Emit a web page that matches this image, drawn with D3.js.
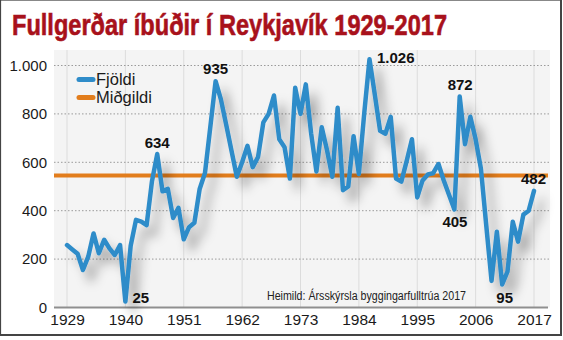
<!DOCTYPE html>
<html>
<head>
<meta charset="utf-8">
<script src="https://cdn.jsdelivr.net/npm/d3@7"></script>
<style>
  html, body { margin: 0; padding: 0; background: #fff; }
  svg { display: block; }
</style>
</head>
<body>
<svg id="chart" width="563" height="340"></svg>
<script>
// Completed dwellings in Reykjavík per year, 1929–2017
const years = d3.range(1929, 2018);
const fjoldi = [
  258, 240, 222, 155, 210, 306, 224, 280, 244, 217,   // 1929-1938
  258, 25, 255, 362, 355, 340, 520, 634, 480, 490,    // 1939-1948
  370, 412, 282, 332, 350, 490, 556, 745, 935, 860,   // 1949-1958
  755, 648, 540, 600, 668, 580, 622, 765, 800, 876,   // 1959-1968
  695, 662, 533, 908, 800, 922, 720, 562, 745, 650,   // 1969-1978
  540, 825, 485, 500, 708, 552, 800, 1026, 880, 730,  // 1979-1988
  718, 788, 533, 520, 605, 695, 455, 525, 550, 555,   // 1989-1998
  593, 525, 465, 405, 872, 675, 788, 695, 574, 340,   // 1999-2008
  110, 313, 95, 148, 354, 272, 384, 400, 482          // 2009-2017
];
const midgildi = 545;
const labelledYears = [1940, 1946, 1957, 1986, 2002, 2003, 2011, 2017];
const xTicks = [1929, 1940, 1951, 1962, 1973, 1984, 1995, 2006, 2017];
const yTicks = [0, 200, 400, 600, 800, 1000];
const seriesNames = ["Fjöldi", "Miðgildi"];
const titleText = "Fullgerðar íbúðir í Reykjavík 1929-2017";
const sourceText = "Heimild: Ársskýrsla byggingarfulltrúa 2017";

const data = years.map((y, i) => ({ year: y, value: fjoldi[i] }));

const svg = d3.select("#chart");
const W = 563, H = 340;
const plot = { left: 54, right: 550, top: 50, bottom: 307.5 };

const x = d3.scaleLinear().domain([1929, 2017]).range([67, 534]);
const y = d3.scaleLinear().domain([0, 1000]).range([307.5, 65.5]);

const is = d3.formatLocale({ decimal: ",", thousands: ".", grouping: [3], currency: ["", ""] });
const fmt = is.format(",");

const blue = "#2f8cc9";
const orange = "#e27d1c";
const narrow = "'Liberation Sans Narrow', 'Liberation Sans', Arial, sans-serif";

// soft drop shadow under the series line
const defs = svg.append("defs");
const f = defs.append("filter").attr("id", "shadow")
  .attr("x", "-10%").attr("y", "-10%").attr("width", "130%").attr("height", "140%");
f.append("feDropShadow").attr("dx", 8).attr("dy", 10).attr("stdDeviation", 5.5)
  .attr("flood-color", "#000").attr("flood-opacity", 0.34);

// frame
svg.append("rect").attr("x", 0).attr("y", 0).attr("width", W).attr("height", H).attr("fill", "#fff");
svg.append("rect").attr("x", 0.5).attr("y", 0.5).attr("width", 560).attr("height", 334.5)
  .attr("fill", "#fff").attr("stroke", "#888").attr("stroke-width", 1);
svg.append("line").attr("x1", 0).attr("x2", 562).attr("y1", 335).attr("y2", 335)
  .attr("stroke", "#444").attr("stroke-width", 2);
svg.append("line").attr("x1", 561).attr("x2", 561).attr("y1", 0).attr("y2", 336)
  .attr("stroke", "#444").attr("stroke-width", 2);
svg.append("line").attr("x1", 0.5).attr("x2", 0.5).attr("y1", 0).attr("y2", 336)
  .attr("stroke", "#444").attr("stroke-width", 1.2);

// title
svg.append("text")
  .attr("x", 12).attr("y", 35)
  .attr("textLength", 435).attr("lengthAdjust", "spacingAndGlyphs")
  .style("font-family", narrow).style("font-weight", "bold").style("font-size", "29px")
  .attr("fill", "#a8111b")
  .attr("stroke", "#a8111b").attr("stroke-width", 0.6)
  .text(titleText);

// plot background
svg.append("rect")
  .attr("x", plot.left).attr("y", plot.top)
  .attr("width", plot.right - plot.left).attr("height", plot.bottom - plot.top)
  .attr("fill", "#f4f4f4");

// vertical grid
svg.append("g").selectAll("line").data(xTicks).join("line")
  .attr("x1", d => x(d)).attr("x2", d => x(d))
  .attr("y1", plot.top).attr("y2", plot.bottom)
  .attr("stroke", "#dcdcdc").attr("stroke-width", 1);

// horizontal grid (dotted)
svg.append("g").selectAll("line").data(yTicks.filter(d => d > 0)).join("line")
  .attr("x1", plot.left).attr("x2", plot.right)
  .attr("y1", d => y(d)).attr("y2", d => y(d))
  .attr("stroke", "#9a9a9a").attr("stroke-width", 1).attr("stroke-dasharray", "1.5,2");

// baseline
svg.append("line")
  .attr("x1", plot.left).attr("x2", 548)
  .attr("y1", y(0)).attr("y2", y(0))
  .attr("stroke", "#8f8f8f").attr("stroke-width", 2);

// y axis labels
const yAxis = svg.append("g").attr("transform", "translate(47,0)")
  .call(d3.axisLeft(y).tickValues(yTicks).tickFormat(fmt).tickSize(0).tickPadding(0));
yAxis.select(".domain").remove();
yAxis.selectAll("text")
  .style("font-family", narrow).style("font-size", "15px").attr("fill", "#1a1a1a");

// x axis labels
const xAxis = svg.append("g").attr("transform", "translate(0,314)")
  .call(d3.axisBottom(x).tickValues(xTicks).tickFormat(d3.format("d")).tickSize(0).tickPadding(0));
xAxis.select(".domain").remove();
xAxis.selectAll("text")
  .style("font-family", narrow).style("font-size", "15.5px").attr("fill", "#1a1a1a");

// source note
svg.append("text")
  .attr("x", 267).attr("y", 300)
  .attr("textLength", 199).attr("lengthAdjust", "spacingAndGlyphs")
  .style("font-family", narrow).style("font-size", "12px").attr("fill", "#222")
  .text(sourceText);

// median line
svg.append("line")
  .attr("x1", plot.left).attr("x2", 548)
  .attr("y1", y(midgildi)).attr("y2", y(midgildi))
  .attr("stroke", orange).attr("stroke-width", 4);

// series line
const line = d3.line().x(d => x(d.year)).y(d => y(d.value));
svg.append("path")
  .datum(data)
  .attr("d", line)
  .attr("fill", "none")
  .attr("stroke", blue)
  .attr("stroke-width", 4.5)
  .attr("stroke-linejoin", "round")
  .attr("stroke-linecap", "round")
  .attr("filter", "url(#shadow)");

// legend
const legend = svg.append("g");
const legendColors = [blue, orange];
seriesNames.forEach((name, i) => {
  const ly = 79.5 + i * 18;
  legend.append("line")
    .attr("x1", 79).attr("x2", 93).attr("y1", ly).attr("y2", ly)
    .attr("stroke", legendColors[i]).attr("stroke-width", 5).attr("stroke-linecap", "round");
  legend.append("text")
    .attr("x", 96).attr("y", ly + 5.5)
    .style("font-family", narrow).style("font-size", "16.5px").attr("fill", "#1a1a1a")
    .text(name);
});

// value labels
const placement = {
  1940: { anchor: "start", dx: 7, dy: 1.5 },
  1946: { anchor: "middle", dx: 0, dy: -6 },
  1957: { anchor: "middle", dx: 0, dy: -7 },
  1986: { anchor: "start", dx: 7.5, dy: 4 },
  2002: { anchor: "middle", dx: 0.5, dy: 18 },
  2003: { anchor: "middle", dx: 0.5, dy: -6 },
  2011: { anchor: "middle", dx: 2.5, dy: 18 },
  2017: { anchor: "middle", dx: -0.5, dy: -7 }
};
svg.append("g").selectAll("text")
  .data(data.filter(d => labelledYears.includes(d.year)))
  .join("text")
  .attr("x", d => x(d.year) + placement[d.year].dx)
  .attr("y", d => y(d.value) + placement[d.year].dy)
  .attr("text-anchor", d => placement[d.year].anchor)
  .style("font-family", "'Liberation Sans', Arial, sans-serif")
  .style("font-weight", "bold").style("font-size", "15px")
  .attr("fill", "#111")
  .text(d => fmt(d.value));
</script>
</body>
</html>
